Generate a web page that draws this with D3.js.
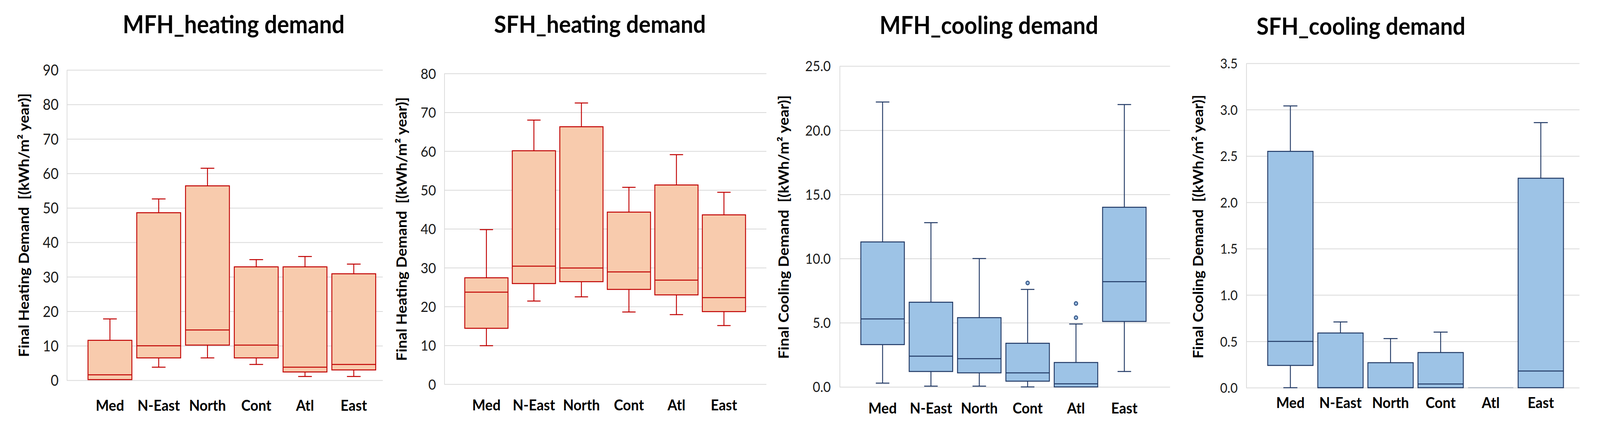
<!DOCTYPE html>
<html>
<head>
<meta charset="utf-8">
<script src="https://cdn.jsdelivr.net/npm/d3@7"></script>
<style>
  html, body { margin: 0; height: 100%; overflow: hidden; background: #fff; }
  svg { display: block; width: 100vw; height: 100vh; }
  text { font-family: Lato, "Open Sans", sans-serif; }
</style>
</head>
<body>
<svg id="chart"></svg>
<script>
const regions = ["Med", "N-East", "North", "Cont", "Atl", "East"];

// MFH heating demand
const mfhHeatMin = [0.2, 3.8, 6.5, 4.6, 1.1, 1.1];
const mfhHeatQ1  = [0.2, 6.5, 10.2, 6.5, 2.4, 3.0];
const mfhHeatMed = [1.6, 10.0, 14.6, 10.2, 3.8, 4.6];
const mfhHeatQ3  = [11.6, 48.6, 56.4, 32.9, 32.9, 30.9];
const mfhHeatMax = [17.8, 52.6, 61.5, 35.0, 35.9, 33.7];

// SFH heating demand
const sfhHeatMin = [9.9, 21.4, 22.5, 18.6, 17.9, 15.1];
const sfhHeatQ1  = [14.4, 25.9, 26.4, 24.4, 23.0, 18.7];
const sfhHeatMed = [23.7, 30.4, 29.9, 28.9, 26.8, 22.3];
const sfhHeatQ3  = [27.4, 60.1, 66.3, 44.3, 51.3, 43.6];
const sfhHeatMax = [39.8, 68.0, 72.4, 50.7, 59.1, 49.4];

// MFH cooling demand
const mfhCoolMin = [0.3, 0.06, 0.06, 0.0, 0.0, 1.2];
const mfhCoolQ1  = [3.3, 1.2, 1.1, 0.45, 0.0, 5.1];
const mfhCoolMed = [5.3, 2.4, 2.2, 1.1, 0.24, 8.2];
const mfhCoolQ3  = [11.3, 6.6, 5.4, 3.4, 1.9, 14.0];
const mfhCoolMax = [22.2, 12.8, 10.0, 7.6, 4.9, 22.0];
const mfhCoolOutCat = ["Cont", "Atl", "Atl"];
const mfhCoolOutVal = [8.1, 6.5, 5.4];

// SFH cooling demand
const sfhCoolMin = [0, 0, 0, 0, 0, 0];
const sfhCoolQ1  = [0.24, 0, 0, 0, 0, 0];
const sfhCoolMed = [0.50, 0, 0, 0.04, 0, 0.18];
const sfhCoolQ3  = [2.55, 0.59, 0.27, 0.38, 0, 2.26];
const sfhCoolMax = [3.04, 0.71, 0.53, 0.60, 0, 2.86];

const mfhHeatTicks = [0, 10, 20, 30, 40, 50, 60, 70, 80, 90];
const sfhHeatTicks = [0, 10, 20, 30, 40, 50, 60, 70, 80];
const mfhCoolTicks = [0, 5, 10, 15, 20, 25];
const sfhCoolTicks = [0, 0.5, 1.0, 1.5, 2.0, 2.5, 3.0, 3.5];

const heatTitle = "Final Heating Demand  [(kWh/m\u00B2 year)]";
const coolTitle = "Final Cooling Demand  [(kWh/m\u00B2 year)]";

const heatStyle = { fill: "#f8cbad", stroke: "#c00000" };
const coolStyle = { fill: "#9dc3e6", stroke: "#203864" };

const W = 4451, H = 1113;

const panels = [
  { title: "MFH_heating demand", yTitle: heatTitle, style: heatStyle,
    min: mfhHeatMin, q1: mfhHeatQ1, med: mfhHeatMed, q3: mfhHeatQ3, max: mfhHeatMax,
    outCat: [], outVal: [], ticks: mfhHeatTicks, fmt: d3.format("d"),
    left: 186, right: 1065, top: 179, bottom: 973, bandStart: 238, bandEnd: 1052, pad: 0.1,
    tickX: 163, tickSize: 38, labelY: 1051, titleX: 650, titleY: 85, titleW: 617,
    yTitleX: 80, yTitleY: 576 },
  { title: "SFH_heating demand", yTitle: heatTitle, style: heatStyle,
    min: sfhHeatMin, q1: sfhHeatQ1, med: sfhHeatMed, q3: sfhHeatQ3, max: sfhHeatMax,
    outCat: [], outVal: [], ticks: sfhHeatTicks, fmt: d3.format("d"),
    left: 1236, right: 2132, top: 188, bottom: 983, bandStart: 1287, bandEnd: 2080, pad: 0.09,
    tickX: 1213, tickSize: 37, labelY: 1050, titleX: 1669, titleY: 84, titleW: 589,
    yTitleX: 1131, yTitleY: 586 },
  { title: "MFH_cooling demand", yTitle: coolTitle, style: coolStyle,
    min: mfhCoolMin, q1: mfhCoolQ1, med: mfhCoolMed, q3: mfhCoolQ3, max: mfhCoolMax,
    outCat: mfhCoolOutCat, outVal: mfhCoolOutVal, ticks: mfhCoolTicks, fmt: d3.format(".1f"),
    left: 2336, right: 3255, top: 169, bottom: 990, bandStart: 2388, bandEnd: 3195, pad: 0.1,
    tickX: 2311, tickSize: 36, labelY: 1058, titleX: 2751, titleY: 87, titleW: 608,
    yTitleX: 2194, yTitleY: 581 },
  { title: "SFH_cooling demand", yTitle: coolTitle, style: coolStyle,
    min: sfhCoolMin, q1: sfhCoolQ1, med: sfhCoolMed, q3: sfhCoolQ3, max: sfhCoolMax,
    outCat: [], outVal: [], ticks: sfhCoolTicks, fmt: d3.format(".1f"),
    left: 3467, right: 4394, top: 162, bottom: 992, bandStart: 3520, bandEnd: 4356, pad: 0.095,
    tickX: 3443, tickSize: 35, labelY: 1044, titleX: 3786, titleY: 89, titleW: 581,
    yTitleX: 3347, yTitleY: 580 }
];

// the drawing is laid out on a 4451 x 1113 grid and stretched to the window
const svg = d3.select("#chart")
  .attr("viewBox", `0 0 ${W} ${H}`)
  .attr("preserveAspectRatio", "none");

svg.append("rect").attr("width", W).attr("height", H).attr("fill", "#fff");

// scale a text's font size so that it is as wide as the target
function fitWidth(t, w) {
  const fs = parseFloat(t.attr("font-size"));
  const len = t.node().getComputedTextLength();
  t.attr("font-size", fs * w / len);
}

function drawPanel(p) {
  const g = svg.append("g");

  const y = d3.scaleLinear()
    .domain([0, p.ticks[p.ticks.length - 1]])
    .range([p.bottom, p.top]);

  const x = d3.scaleBand()
    .domain(regions)
    .range([p.bandStart, p.bandEnd])
    .paddingInner(p.pad)
    .paddingOuter(p.pad / 2);

  // y axis with grid lines
  const yAxis = g.append("g")
    .attr("transform", `translate(${p.left},0)`)
    .call(d3.axisLeft(y)
      .tickValues(p.ticks)
      .tickFormat(p.fmt)
      .tickSize(-(p.right - p.left))
      .tickSizeOuter(0)
      .tickPadding(p.left - p.tickX));
  yAxis.select(".domain").attr("stroke", "#d9d9d9").attr("stroke-width", 2);
  yAxis.selectAll(".tick line").attr("stroke", "#d9d9d9").attr("stroke-width", 2);
  yAxis.selectAll(".tick text")
    .attr("font-family", "Lato, sans-serif")
    .attr("font-size", p.tickSize)
    .attr("fill", "#1a1a1a")
    .attr("dy", "0.36em");

  // x axis labels
  const xAxis = g.append("g")
    .attr("transform", `translate(0,${p.labelY})`)
    .call(d3.axisBottom(x).tickSize(0));
  xAxis.select(".domain").remove();
  const labels = xAxis.selectAll(".tick text")
    .attr("y", 0)
    .attr("dy", 0)
    .attr("font-family", "Lato, sans-serif")
    .attr("font-weight", "bold")
    .attr("font-size", 38)
    .attr("fill", "#000");
  const probe = labels.filter(d => d === "N-East");
  fitWidth(probe, 118);
  labels.attr("font-size", probe.attr("font-size"));

  // boxes
  const bw = x.bandwidth();
  const cap = x.step() * 0.28;
  const stats = regions.map((r, i) => ({
    r, min: p.min[i], q1: p.q1[i], med: p.med[i], q3: p.q3[i], max: p.max[i]
  }));

  const box = g.append("g").selectAll("g")
    .data(stats)
    .join("g")
    .attr("transform", d => `translate(${x(d.r)},0)`);

  // whiskers
  box.filter(d => d.max > d.q3).append("path")
    .attr("d", d => `M${bw / 2},${y(d.q3)}V${y(d.max)}M${bw / 2 - cap / 2},${y(d.max)}h${cap}`)
    .attr("fill", "none")
    .attr("stroke", p.style.stroke)
    .attr("stroke-width", 2.5);
  box.filter(d => d.min < d.q1).append("path")
    .attr("d", d => `M${bw / 2},${y(d.q1)}V${y(d.min)}M${bw / 2 - cap / 2},${y(d.min)}h${cap}`)
    .attr("fill", "none")
    .attr("stroke", p.style.stroke)
    .attr("stroke-width", 2.5);

  box.append("path")
    .attr("d", d => `M0,${y(d.q3)}H${bw}V${y(d.q1)}H0Z`)
    .attr("fill", p.style.fill)
    .attr("stroke", d => d.q3 === d.q1 ? "#b0b8c4" : p.style.stroke)
    .attr("stroke-width", 2.5);

  box.filter(d => d.q3 > d.q1).append("line")
    .attr("x1", 0)
    .attr("x2", bw)
    .attr("y1", d => y(d.med))
    .attr("y2", d => y(d.med))
    .attr("stroke", p.style.stroke)
    .attr("stroke-width", 2.5);

  // outliers
  g.append("g").selectAll("circle")
    .data(p.outVal.map((v, i) => ({ r: p.outCat[i], v })))
    .join("circle")
    .attr("cx", d => x(d.r) + bw / 2)
    .attr("cy", d => y(d.v))
    .attr("r", 4.5)
    .attr("fill", "#9dc3e6")
    .attr("stroke", "#3b5a8a")
    .attr("stroke-width", 3);

  // titles
  const t = g.append("text")
    .attr("x", p.titleX)
    .attr("y", p.titleY)
    .attr("text-anchor", "middle")
    .attr("font-family", "Lato, sans-serif")
    .attr("font-weight", "bold")
    .attr("font-size", 58)
    .attr("fill", "#000")
    .text(p.title);
  fitWidth(t, p.titleW);

  const yt = g.append("text")
    .attr("transform", `translate(${p.yTitleX},${p.yTitleY}) rotate(-90)`)
    .attr("text-anchor", "middle")
    .attr("font-family", "Lato, sans-serif")
    .attr("font-weight", "bold")
    .attr("font-size", 33)
    .attr("fill", "#000")
    .style("white-space", "pre")
    .text(p.yTitle);
  fitWidth(yt, 675);
}

panels.forEach(drawPanel);
</script>
</body>
</html>
